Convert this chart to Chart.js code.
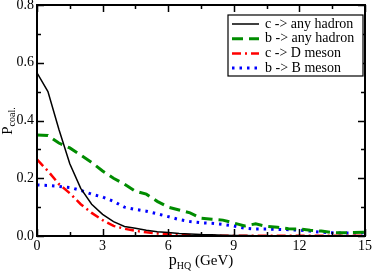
<!DOCTYPE html>
<html>
<head>
<meta charset="utf-8">
<script src="https://cdn.jsdelivr.net/npm/chart.js@4/dist/chart.umd.min.js"></script>
<style>
  html, body { margin: 0; padding: 0; background: #fff; }
  #wrap { width: 374px; height: 271px; }
</style>
</head>
<body>
<div id="wrap"><canvas id="grafico"></canvas></div>
<script>
// p_HQ sampling (GeV)
const pHQ = [0, 0.5, 1, 1.5, 2, 2.5, 3, 3.5, 4, 4.5, 5, 5.5, 6, 6.5, 7, 7.5, 8, 8.5, 9, 9.5,
  10, 10.5, 11, 11.5, 12, 12.5, 13, 13.5, 14, 14.5, 15];

const cAnyHadron = [0.565, 0.50, 0.37, 0.25, 0.165, 0.11, 0.075, 0.05, 0.033, 0.027, 0.02, 0.015,
  0.012, 0.009, 0.007, 0.005, 0.004, 0.003, 0.002, 0.0015, 0.001, 0.001, 0.001, 0.001, 0.001,
  0.001, 0.001, 0.001, 0.001, 0.001, 0.001];
const bAnyHadron = [0.35, 0.348, 0.322, 0.305, 0.28, 0.255, 0.225, 0.2, 0.18, 0.155, 0.145, 0.12,
  0.1, 0.09, 0.08, 0.062, 0.058, 0.055, 0.045, 0.035, 0.042, 0.033, 0.03, 0.025, 0.024,
  0.02, 0.017, 0.012, 0.011, 0.012, 0.013];
const cDMeson = [0.265, 0.225, 0.18, 0.148, 0.11, 0.08, 0.055, 0.035, 0.025, 0.018, 0.013, 0.009,
  0.006, 0.004, 0.003, 0.002, 0.001, 0.001, 0.0005, 0.0005, 0.0005, 0.0005, 0.0005, 0.0005,
  0.0005, 0.0005, 0.0005, 0.0005, 0.0005, 0.0005, 0.0005];
const bBMeson = [0.177, 0.175, 0.172, 0.168, 0.158, 0.145, 0.135, 0.12, 0.1, 0.092, 0.086, 0.077,
  0.067, 0.057, 0.05, 0.046, 0.044, 0.04, 0.035, 0.027, 0.024, 0.024, 0.023, 0.022, 0.02,
  0.017, 0.013, 0.011, 0.01, 0.01, 0.011];

const xTicks = [0, 3, 6, 9, 12, 15];
const yTicks = [0.0, 0.2, 0.4, 0.6, 0.8];

const SERIF = '"Liberation Serif", "DejaVu Serif", serif';

function puntos(vals) {
  return pHQ.map((x, i) => ({ x: x, y: vals[i] }));
}

const series = [
  { label: "c -> any hadron", data: cAnyHadron, color: "#000000", width: 1.5, dash: [] },
  { label: "b -> any hadron", data: bAnyHadron, color: "#008c00", width: 3, dash: [11, 6] },
  { label: "c -> D meson", data: cDMeson, color: "#ff0000", width: 2.5, dash: [9, 4, 2, 4] },
  { label: "b -> B meson", data: bBMeson, color: "#0000ff", width: 3, dash: [2.5, 5] }
];

// Ticks hacia dentro, marco y leyenda
const marco = {
  id: "marco",
  afterDraw(chart) {
    const ctx = chart.ctx;
    const a = chart.chartArea;
    const xs = chart.scales.x, ys = chart.scales.y;
    ctx.save();
    ctx.strokeStyle = "#000";
    ctx.lineWidth = 2;
    ctx.strokeRect(a.left, a.top, a.right - a.left, a.bottom - a.top);

    ctx.lineWidth = 1.5;
    ctx.beginPath();
    for (let v = 0; v <= 15; v += 1.5) {
      const px = Math.round(xs.getPixelForValue(v)) + 0.5;
      const len = (v % 3 === 0) ? 7 : 4;
      ctx.moveTo(px, a.bottom); ctx.lineTo(px, a.bottom - len);
      ctx.moveTo(px, a.top); ctx.lineTo(px, a.top + len);
    }
    for (let i = 0; i <= 8; i++) {
      const py = Math.round(ys.getPixelForValue(i / 10)) + 0.5;
      const len = (i % 2 === 0) ? 7 : 4;
      ctx.moveTo(a.left, py); ctx.lineTo(a.left + len, py);
      ctx.moveTo(a.right, py); ctx.lineTo(a.right - len, py);
    }
    ctx.stroke();

    // tick labels
    ctx.fillStyle = "#000";
    ctx.font = "14px " + SERIF;
    ctx.textAlign = "center";
    ctx.textBaseline = "top";
    xTicks.forEach(v => ctx.fillText(String(v), xs.getPixelForValue(v), a.bottom + 3));
    ctx.textAlign = "right";
    ctx.textBaseline = "middle";
    yTicks.forEach(v => ctx.fillText(v.toFixed(1), a.left - 3, ys.getPixelForValue(v)));

    // x axis title: p_HQ (GeV)
    ctx.textAlign = "left";
    ctx.textBaseline = "alphabetic";
    ctx.font = "16px " + SERIF;
    const w1 = ctx.measureText("p").width;
    ctx.font = "10px " + SERIF;
    const w2 = ctx.measureText("HQ").width;
    ctx.font = "15px " + SERIF;
    const w3 = ctx.measureText(" (GeV)").width;
    let x0 = (a.left + a.right) / 2 - (w1 + w2 + w3) / 2;
    const yb = 265;
    ctx.font = "16px " + SERIF;
    ctx.fillText("p", x0, yb);
    ctx.font = "10px " + SERIF;
    ctx.fillText("HQ", x0 + w1, yb + 4);
    ctx.font = "15px " + SERIF;
    ctx.fillText(" (GeV)", x0 + w1 + w2, yb);

    // y axis title: P_coal.
    ctx.save();
    ctx.translate(12, 121);
    ctx.rotate(-Math.PI / 2);
    ctx.font = "15px " + SERIF;
    const v1 = ctx.measureText("P").width;
    ctx.font = "10px " + SERIF;
    const v2 = ctx.measureText("coal.").width;
    const s = -(v1 + v2) / 2;
    ctx.font = "15px " + SERIF;
    ctx.fillText("P", s, 0);
    ctx.font = "10px " + SERIF;
    ctx.fillText("coal.", s + v1, 3);
    ctx.restore();

    // leyenda
    const lx = 228, ly = 15, lw = 135, lh = 61;
    ctx.fillStyle = "#fff";
    ctx.fillRect(lx, ly, lw, lh);
    ctx.strokeStyle = "#000";
    ctx.lineWidth = 1.2;
    ctx.strokeRect(lx, ly, lw, lh);
    ctx.font = "14px " + SERIF;
    ctx.textBaseline = "middle";
    ctx.textAlign = "left";
    chart.data.datasets.forEach((ds, i) => {
      const yy = ly + 9 + i * 14.7;
      ctx.strokeStyle = ds.borderColor;
      ctx.lineWidth = ds.borderWidth;
      ctx.setLineDash(ds.borderDash);
      ctx.beginPath();
      ctx.moveTo(232, yy); ctx.lineTo(259, yy);
      ctx.stroke();
      ctx.setLineDash([]);
      ctx.fillStyle = "#000";
      ctx.fillText(ds.label, 265, yy);
    });
    ctx.restore();
  }
};

new Chart(document.getElementById("grafico"), {
  type: "line",
  data: {
    datasets: series.map(s => ({
      label: s.label,
      data: puntos(s.data),
      borderColor: s.color,
      borderWidth: s.width,
      borderDash: s.dash,
      pointRadius: 0,
      fill: false,
      tension: 0
    }))
  },
  options: {
    responsive: true,
    maintainAspectRatio: false,
    animation: false,
    layout: { padding: { left: 0, right: 9, top: 5, bottom: 0 } },
    plugins: { legend: { display: false }, tooltip: { enabled: false } },
    scales: {
      x: {
        type: "linear", min: 0, max: 15,
        grid: { display: false, drawTicks: false },
        border: { display: false },
        ticks: { display: false },
        afterFit(scale) { scale.height = 35; scale.paddingLeft = 0; scale.paddingRight = 0; }
      },
      y: {
        min: 0, max: 0.8,
        grid: { display: false, drawTicks: false },
        border: { display: false },
        ticks: { display: false },
        afterFit(scale) { scale.width = 37; scale.paddingTop = 0; scale.paddingBottom = 0; }
      }
    }
  },
  plugins: [marco]
});
</script>
</body>
</html>
